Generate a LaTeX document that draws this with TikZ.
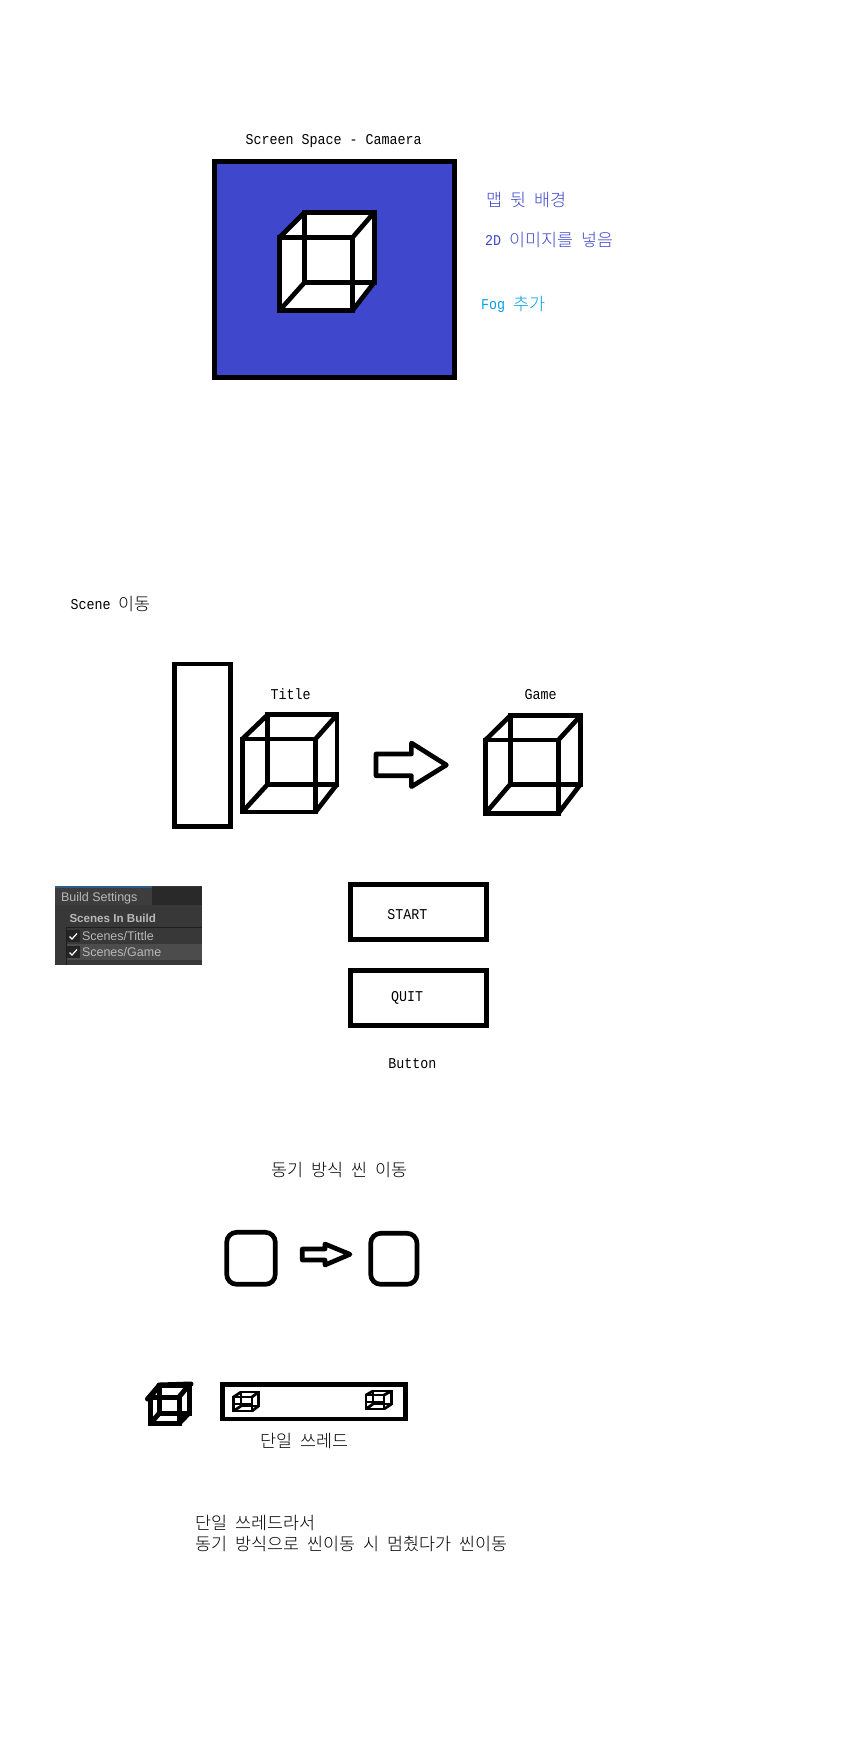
\documentclass[tikz,border=0pt]{standalone}
\usepackage{fontspec}
\setmainfont{Liberation Sans}
\newfontfamily\mymono[FakeStretch=0.889]{Liberation Mono}
\newfontfamily\krfont{Noto Sans CJK KR Light}
\newcommand{\hg}[1]{\raisebox{-1pt}{\krfont\fontsize{17.4}{17}\selectfont #1}}
\definecolor{pblue}{HTML}{3F48CC}
\definecolor{pcyan}{HTML}{00A2E8}
\newcommand{\mycube}[9]{%
  \fill[white] (#1,#4) -- (#1,#2) -- (#5,#6) -- (#7,#6) -- (#7,#8) -- (#3,#4) -- cycle;
  \draw[line width=#9,line join=miter] (#1,#2) rectangle (#3,#4);
  \draw[line width=#9,line join=miter] (#5,#6) rectangle (#7,#8);
  \draw[line width=#9] (#1,#2) -- (#5,#6) (#3,#2) -- (#7,#6) (#1,#4) -- (#5,#8) (#3,#4) -- (#7,#8);
}
\tikzset{
  txt/.style={anchor=base west,inner sep=0pt,outer sep=0pt,font=\mymono\fontsize{15}{16}\selectfont},
  stroke/.style={draw=black,line width=4.67pt},
  ui/.style={anchor=base west,inner sep=0pt,outer sep=0pt,font=\fontsize{12.5}{14}\selectfont,text=uitext},
}
\definecolor{uitext}{HTML}{B8B8B8}
\begin{document}
\begin{tikzpicture}[x=1pt,y=-1pt]
\useasboundingbox[fill=white] (0,0) rectangle (840,1752);
% top
\node[txt] (t1) at (245.5,145) {Screen Space - Camaera};
\draw[stroke,fill=pblue] (214.5,161.5) rectangle (454.5,377.5);
\mycube{279.7}{237.3}{352.7}{310.3}{304.7}{212.3}{374.3}{282.3}{4.67pt}
\node[txt,text=pblue] (t2) at (486,206) {\hg{맵} \hg{뒷} \hg{배경}};
\node[txt,text=pblue] (t3) at (485,246) {2D \hg{이미지를} \hg{넣음}};
\node[txt,text=pcyan] (t4) at (481,310) {Fog \hg{추가}};
% scene
\node[txt] (t5) at (70.5,609.5) {Scene \hg{이동}};
\draw[stroke] (174.5,664) rectangle (230.5,826.7);
\node[txt] (t6) at (270.5,699) {Title};
\mycube{242.3}{739}{315.5}{812}{267.7}{714.7}{337}{784.3}{4.67pt}
\draw[stroke,line join=round] (376,754) -- (411.4,754) -- (411.4,743) -- (446.4,765) -- (411.4,786.7) -- (411.4,775.7) -- (376,775.7) -- cycle;
\node[txt] (t7) at (524.5,699) {Game};
\mycube{485.5}{740}{558.4}{813.3}{510.2}{715.7}{580.5}{784.3}{4.67pt}
% build settings
\fill[fill=black!78] (55,886) rectangle (202,965);
\fill[fill=black!84] (152,887) rectangle (202,905);
\fill[fill=black!76] (55,887) rectangle (152,905);
\fill[fill={rgb,255:red,44;green,93;blue,135}] (55,886) rectangle (152,887.5);
\fill[fill=black!70] (66,944) rectangle (202,960);
\draw[draw=black!88,line width=0.8pt] (66,965) -- (66,927) -- (202,927);
\fill[fill=black!86] (67,930) rectangle (79.5,942);
\fill[fill=black!86] (67,946) rectangle (79.5,958);
\draw[white,line width=1.2pt] (69.5,936.5) -- (72,939) -- (77,933.5);
\draw[white,line width=1.2pt] (69.5,952.5) -- (72,955) -- (77,949.5);
\node[ui] (u1) at (61,901.2) {Build Settings};
\node[ui,font=\bfseries\fontsize{11.6}{14}\selectfont] (u2) at (69.5,922) {Scenes In Build};
\node[ui] (u3) at (82,940) {Scenes/Tittle};
\node[ui] (u4) at (82,956) {Scenes/Game};
% buttons
\draw[stroke] (350.3,884.3) rectangle (486.7,939.7);
\node[txt] (t8) at (387.3,919) {START};
\draw[stroke] (350.3,970.3) rectangle (486.7,1025.7);
\node[txt] (t9) at (391,1001.7) {QUIT};
\node[txt] (t10) at (388.3,1068) {Button};
% sync
\node[txt] (t11) at (271.7,1175) {\hg{동기} \hg{방식} \hg{씬} \hg{이동}};
\draw[stroke,rounded corners=10pt] (226.7,1232.3) rectangle (275.3,1284.3);
\draw[stroke,rounded corners=10pt] (370.7,1233.3) rectangle (417,1284.3);
\draw[stroke,line join=round] (302.3,1249) -- (325,1249) -- (325,1244) -- (350,1254.3) -- (325,1265) -- (325,1260) -- (302.3,1260) -- cycle;
% thread
\mycube{150.5}{1397}{179}{1423.5}{159.5}{1385}{189}{1413}{5pt}
\draw[line width=5pt,line cap=round] (147.5,1399) -- (159.5,1385) -- (191,1384);
\draw[stroke] (222.3,1384.3) rectangle (405.7,1419);
\mycube{233.5}{1397}{252}{1411}{241}{1392}{258.5}{1406}{2.8pt}
\draw[line width=2.8pt] (233.5,1404) -- (252,1404);
\mycube{366}{1395}{384}{1409}{373}{1391}{391.5}{1404}{2.8pt}
\draw[line width=2.8pt] (366,1402) -- (384,1402);
\node[txt] (t12) at (260,1446.7) {\hg{단일} \hg{쓰레드}};
% bottom
\node[txt] (t13) at (195.7,1528) {\hg{단일} \hg{쓰레드라서}};
\node[txt] (t14) at (195.7,1549) {\hg{동기} \hg{방식으로} \hg{씬이동} \hg{시} \hg{멈췄다가} \hg{씬이동}};
\end{tikzpicture}
\end{document}
